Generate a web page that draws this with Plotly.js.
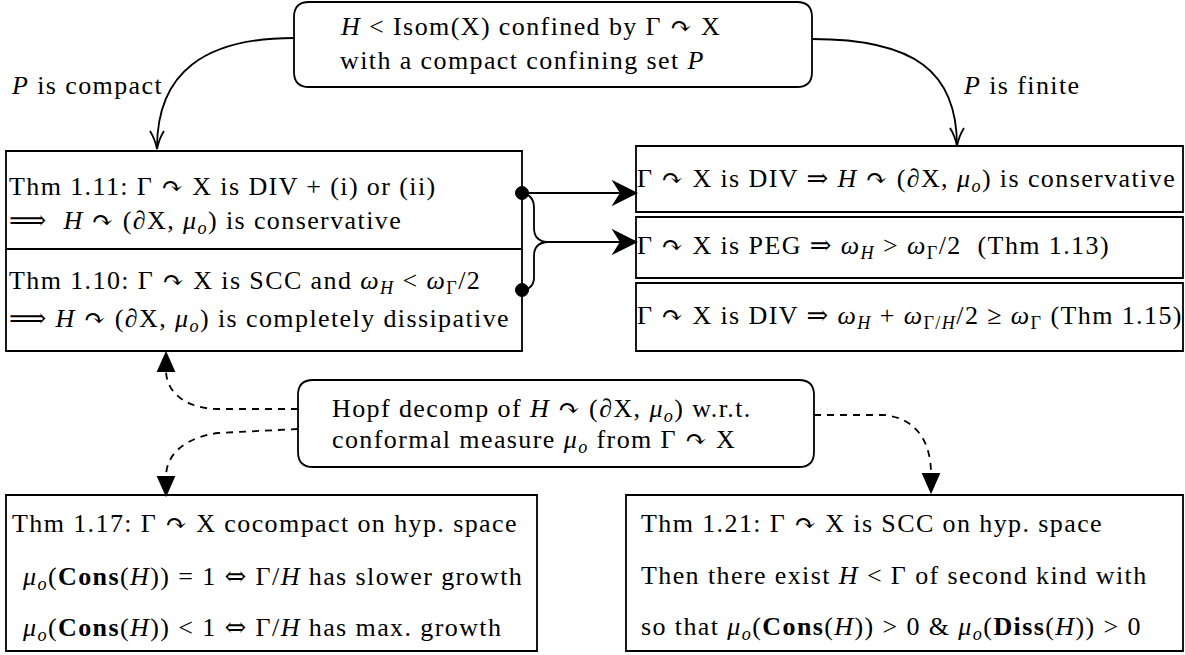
<!DOCTYPE html>
<html><head><meta charset="utf-8">
<script src="https://cdn.plot.ly/plotly-3.0.1.min.js"></script>
<style>html,body{margin:0;padding:0;background:#fff}
.annotation-text{letter-spacing:1.4px}</style>
</head><body><div id="chart" style="width:1185px;height:655px"></div>
<script>
// ---- text content ----
const IFF = "<span style=\"font-family:DejaVu Serif\">⇔</span>";
const IMPL = "<span style=\"font-family:DejaVu Serif\">⟹</span>";
const topBoxLines = ["<i>H</i> &lt; Isom(X) confined by Γ ↷ X", "with a compact confining set <i>P</i>"];
const edgeLabels = ["<i>P</i> is compact", "<i>P</i> is finite"];
const leftBoxLines = [
  "Thm 1.11: Γ ↷ X is DIV + (i) or (ii)",
  IMPL + "&nbsp; <i>H</i> ↷ (∂X, <i>μ</i><sub><i>o</i></sub>) is conservative",
  "Thm 1.10: Γ ↷ X is SCC and <i>ω</i><sub><i>H</i></sub> &lt; <i>ω</i><sub>Γ</sub>/2",
  IMPL + " <i>H</i> ↷ (∂X, <i>μ</i><sub><i>o</i></sub>) is completely dissipative"
];
const rightBoxLines = [
  "Γ ↷ X is DIV ⇒ <i>H</i> ↷ (∂X, <i>μ</i><sub><i>o</i></sub>) is conservative",
  "Γ ↷ X is PEG ⇒ <i>ω</i><sub><i>H</i></sub> &gt; <i>ω</i><sub>Γ</sub>/2&nbsp; (Thm 1.13)",
  "Γ ↷ X is DIV ⇒ <i>ω</i><sub><i>H</i></sub> + <i>ω</i><sub>Γ/<i>H</i></sub>/2 ≥ <i>ω</i><sub>Γ</sub> (Thm 1.15)"
];
const hopfLines = [
  "Hopf decomp of <i>H</i> ↷ (∂X, <i>μ</i><sub><i>o</i></sub>) w.r.t.",
  "conformal measure <i>μ</i><sub><i>o</i></sub> from Γ ↷ X"
];
const bottomLeftLines = [
  "Thm 1.17: Γ ↷ X cocompact on hyp. space",
  "<i>μ</i><sub><i>o</i></sub>(<b>Cons</b>(<i>H</i>)) = 1 " + IFF + " Γ/<i>H</i> has slower growth",
  "<i>μ</i><sub><i>o</i></sub>(<b>Cons</b>(<i>H</i>)) &lt; 1 " + IFF + " Γ/<i>H</i> has max. growth"
];
const bottomRightLines = [
  "Thm 1.21: Γ ↷ X is SCC on hyp. space",
  "Then there exist <i>H</i> &lt; Γ of second kind with",
  "so that <i>μ</i><sub><i>o</i></sub>(<b>Cons</b>(<i>H</i>)) &gt; 0 &amp; <i>μ</i><sub><i>o</i></sub>(<b>Diss</b>(<i>H</i>)) &gt; 0"
];

// ---- layout geometry ----
const FONT = {family: "Liberation Serif, DejaVu Serif, serif", size: 26, color: "#000"};
const annotations = [];
function addLines(lines, xs, ys) {
  lines.forEach((t, i) => annotations.push({
    text: t, x: Array.isArray(xs) ? xs[i] : xs, y: ys[i], xref: "x", yref: "y",
    xanchor: "left", yanchor: "middle", showarrow: false, font: FONT, borderpad: 0
  }));
}
addLines(topBoxLines, 339, [26, 60]);
addLines(edgeLabels, [10, 962], [85, 85]);
addLines(leftBoxLines, 8, [186, 221, 282, 319]);
addLines(rightBoxLines, 636, [180, 247, 317]);
addLines(hopfLines, 331, [410, 441]);
addLines(bottomLeftLines, [11, 21, 21], [523, 577, 628]);
addLines(bottomRightLines, 640, [523, 575, 628]);

const shapes = [];
const solid = {color: "#000", width: 1.8};
function rect(x0, y0, x1, y1) {
  shapes.push({type: "rect", xref: "x", yref: "y", x0, y0, x1, y1, line: solid});
}
function rrect(x0, y0, x1, y1, r) {
  shapes.push({type: "path", xref: "x", yref: "y", line: solid,
    path: `M${x0+r},${y0} L${x1-r},${y0} Q${x1},${y0} ${x1},${y0+r} L${x1},${y1-r} Q${x1},${y1} ${x1-r},${y1} L${x0+r},${y1} Q${x0},${y1} ${x0},${y1-r} L${x0},${y0+r} Q${x0},${y0} ${x0+r},${y0} Z`});
}
function path(p, dash, fill) {
  const s = {type: "path", xref: "x", yref: "y", path: p, line: {color: "#000", width: 1.8, dash: dash || "solid"}};
  if (fill) s.fillcolor = "#000";
  shapes.push(s);
}
// boxes
rrect(294, 2, 812, 87, 15);
rect(6, 151, 522, 351);
shapes.push({type: "line", xref: "x", yref: "y", x0: 6, x1: 522, y0: 249, y1: 249, line: solid});
rect(636, 146, 1183, 212);
rect(636, 217, 1183, 278);
rect(636, 283, 1183, 351);
rrect(298, 380, 814, 467, 15);
rect(6, 495, 537, 651);
rect(626, 495, 1183, 651);

// top curved arrows with open heads
path("M294,38 C205,38 157,72 157,148");
path("M150,131 Q155,139 157,149 Q159,139 164,131");
path("M812,39 C915,39 957,72 957,146");
path("M950,128 Q955,136 957,146 Q959,136 964,128");

// horizontal arrows from bullets
path("M522,193 L622,193");
path("M636,193 L614,182 L621,193 L614,204 Z", null, true);
path("M522,193 Q534,195 534,208 L534,228 Q534,241 547,242 Q534,243 534,256 L534,277 Q534,289 522,290");
path("M547,242 L622,242");
path("M636,242 L614,231 L621,242 L614,253 Z", null, true);
// bullets
shapes.push({type: "circle", xref: "x", yref: "y", x0: 515.5, x1: 528.5, y0: 186.5, y1: 199.5, fillcolor: "#000", line: {color: "#000", width: 1}});
shapes.push({type: "circle", xref: "x", yref: "y", x0: 515.5, x1: 528.5, y0: 283.5, y1: 296.5, fillcolor: "#000", line: {color: "#000", width: 1}});

// dashed arrows from Hopf box
const DASH = "7px,6px";
path("M298,409 L218,409 C190,409 166,395 166,370", DASH);
path("M166,353 L158,371 L174,371 Z", null, true);
path("M298,429 L218,433 C188,437 166,452 166,477", DASH);
path("M166,495 L158,477 L174,477 Z", null, true);
path("M814,415 L884,415 C915,418 931,440 931,474", DASH);
path("M931,492 L923,474 L939,474 Z", null, true);

const layout = {
  width: 1185, height: 655,
  margin: {l: 0, r: 0, t: 0, b: 0},
  paper_bgcolor: "#fff", plot_bgcolor: "#fff",
  showlegend: false,
  xaxis: {range: [0, 1185], visible: false, fixedrange: true},
  yaxis: {range: [655, 0], visible: false, fixedrange: true},
  shapes, annotations
};
Plotly.newPlot("chart", [], layout, {staticPlot: true, displayModeBar: false});
</script>
</body></html>
